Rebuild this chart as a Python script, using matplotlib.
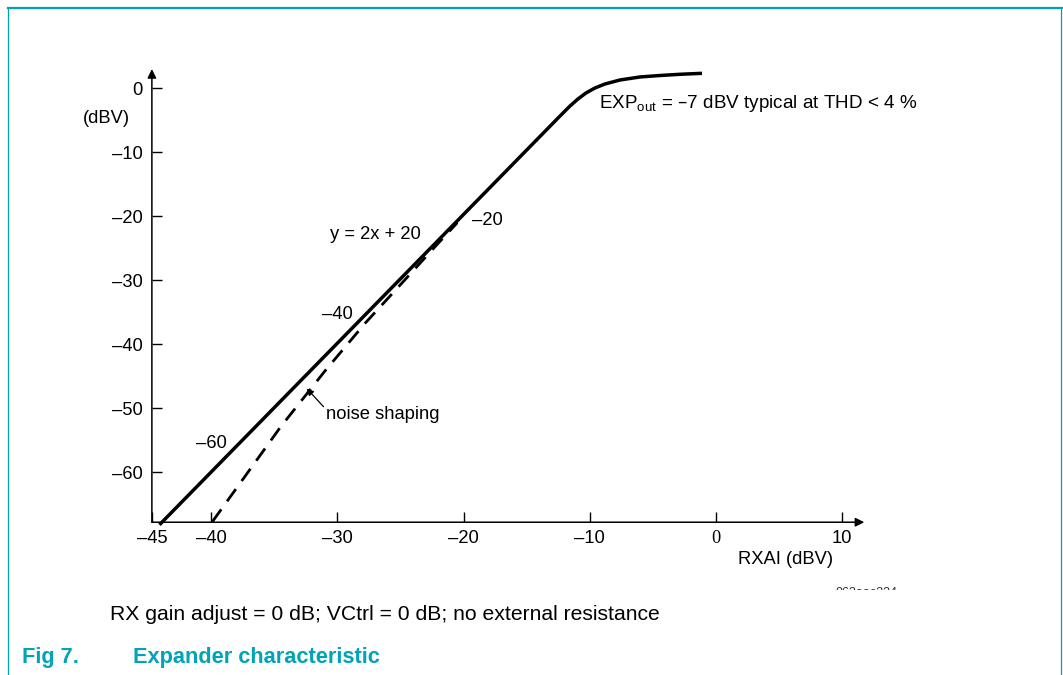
import matplotlib
matplotlib.use("Agg")
import matplotlib.pyplot as plt
from matplotlib.patches import Rectangle
from matplotlib.lines import Line2D

# ---- data ----
solid_x = [-44.1, -12.36, -11.57, -10.94, -10.30, -9.59, -8.80, -7.61, -6.02, -4.44, -2.85, -1.11]
solid_y = [-68.2, -4.33, -2.77, -1.67, -0.73, 0.05, 0.67, 1.30, 1.77, 2.00, 2.19, 2.34]
noise_x = [-39.9, -34.5, -31.0, -27.8, -24.5, -22.1, -20.5]
noise_y = [-67.7, -52.9, -44.2, -36.7, -29.6, -24.4, -21.0]
x_ticks = [-45, -40, -30, -20, -10, 0, 10]
x_tick_labels = ["–45", "–40", "–30", "–20", "–10", "0", "10"]
y_ticks = [0, -10, -20, -30, -40, -50, -60]
y_tick_labels = ["0", "–10", "–20", "–30", "–40", "–50", "–60"]
curve_labels = ["–60", "–40", "–20"]
curve_label_pos = [(-41.2, -55.5), (-31.24, -35.4), (-19.33, -20.6)]

plt.rcParams['font.family'] = ['Liberation Sans', 'DejaVu Sans']
plt.rcParams['lines.scale_dashes'] = False

W, H = 1063, 675
fig = plt.figure(figsize=(W / 100, H / 100), dpi=100)

def fx(p):
    return p / W

def fy(p):
    return 1 - p / H

teal = '#00A3B8'
FS = 13.2
# frame
fig.add_artist(Line2D([fx(8), fx(1063)], [fy(8), fy(8)], color=teal, lw=1.6))
fig.add_artist(Line2D([fx(8), fx(8)], [fy(8), 0], color=teal, lw=0.9))
fig.add_artist(Line2D([fx(1061), fx(1061)], [fy(8), 0], color=teal, lw=0.9))

xmin, xmax = -44.7, 12.0
ymin, ymax = -67.8, 3.0
left_px = 716 + 12.62 * xmin
right_px = 716 + 12.62 * xmax
top_px = 88.3 - 6.4 * ymax
bot_px = 88.3 - 6.4 * ymin
ax = fig.add_axes([fx(left_px), fy(bot_px), (right_px - left_px) / W, (bot_px - top_px) / H])
ax.set_xlim(xmin, xmax)
ax.set_ylim(ymin, ymax)
for s in ax.spines.values():
    s.set_visible(False)
ax.patch.set_alpha(0)

# axes arrows
ax.annotate('', xy=(11.75, ymin), xytext=(xmin, ymin), annotation_clip=False,
            arrowprops=dict(arrowstyle='-|>', lw=1.1, color='black', mutation_scale=13,
                            shrinkA=0, shrinkB=0))
ax.annotate('', xy=(xmin, 3.0), xytext=(xmin, ymin), annotation_clip=False,
            arrowprops=dict(arrowstyle='-|>', lw=1.1, color='black', mutation_scale=13,
                            shrinkA=0, shrinkB=0))

ax.set_xticks([max(v, xmin) for v in x_ticks])
ax.set_xticklabels(x_tick_labels)
ax.set_yticks(y_ticks)
ax.set_yticklabels(y_tick_labels)
ax.tick_params(axis='x', direction='in', length=7.5, width=1.0, pad=5.5, labelsize=FS)
ax.tick_params(axis='y', direction='in', length=7.5, width=1.0, pad=6.5, labelsize=FS)
for lab in ax.get_xticklabels():
    if lab.get_text() == "0":
        lab.set_family('Liberation Serif')

ax.plot(solid_x, solid_y, color='black', lw=2.5, solid_capstyle='butt',
        solid_joinstyle='round', clip_on=False)
ax.plot(noise_x, noise_y, color='black', lw=2.0, linestyle=(0, (10.8, 7.2)),
        dash_capstyle='butt', clip_on=False)

for t, (px_, py_) in zip(curve_labels, curve_label_pos):
    ax.text(px_, py_, t, fontsize=FS, ha='left', va='center')
ax.text(-30.59, -22.77, "y = 2x + 20", fontsize=FS, ha='left', va='center')
ax.text(-30.93, -50.9, "noise shaping", fontsize=FS, ha='left', va='center')
ax.annotate('', xy=(-32.43, -46.9), xytext=(-31.1, -49.75),
            arrowprops=dict(arrowstyle='-|>', lw=0.9, color='black', mutation_scale=10,
                            shrinkA=0, shrinkB=0))
ax.text(-9.25, -2.34, r"EXP$_{\mathregular{out}}$ = –7 dBV typical at THD < 4 %",
        fontsize=13.6, ha='left', va='center')

fig.text(fx(82.7), fy(118.3), "(dBV)", fontsize=FS, ha='left', va='center')
fig.text(fx(738.3), fy(560), "RXAI (dBV)", fontsize=FS, ha='left', va='center')

# clipped figure id
fig.text(fx(836), fy(593.5), "063aac234", fontsize=9, ha='left', va='center', color='#333333')
fig.add_artist(Rectangle((fx(825), fy(620)), fx(110), (620 - 590) / H, facecolor='white',
                         edgecolor='none', zorder=5))

fig.text(fx(110), fy(615), "RX gain adjust = 0 dB; VCtrl = 0 dB; no external resistance",
         fontsize=15.2, ha='left', va='center', zorder=6)

fig.text(fx(22), fy(657), "Fig 7.", fontsize=15.7,
         fontweight='bold', color=teal, ha='left', va='center', zorder=6)
fig.text(fx(133), fy(657), "Expander characteristic", fontsize=15.7,
         fontweight='bold', color=teal, ha='left', va='center', zorder=6)

fig.savefig("out.png", dpi=100)
